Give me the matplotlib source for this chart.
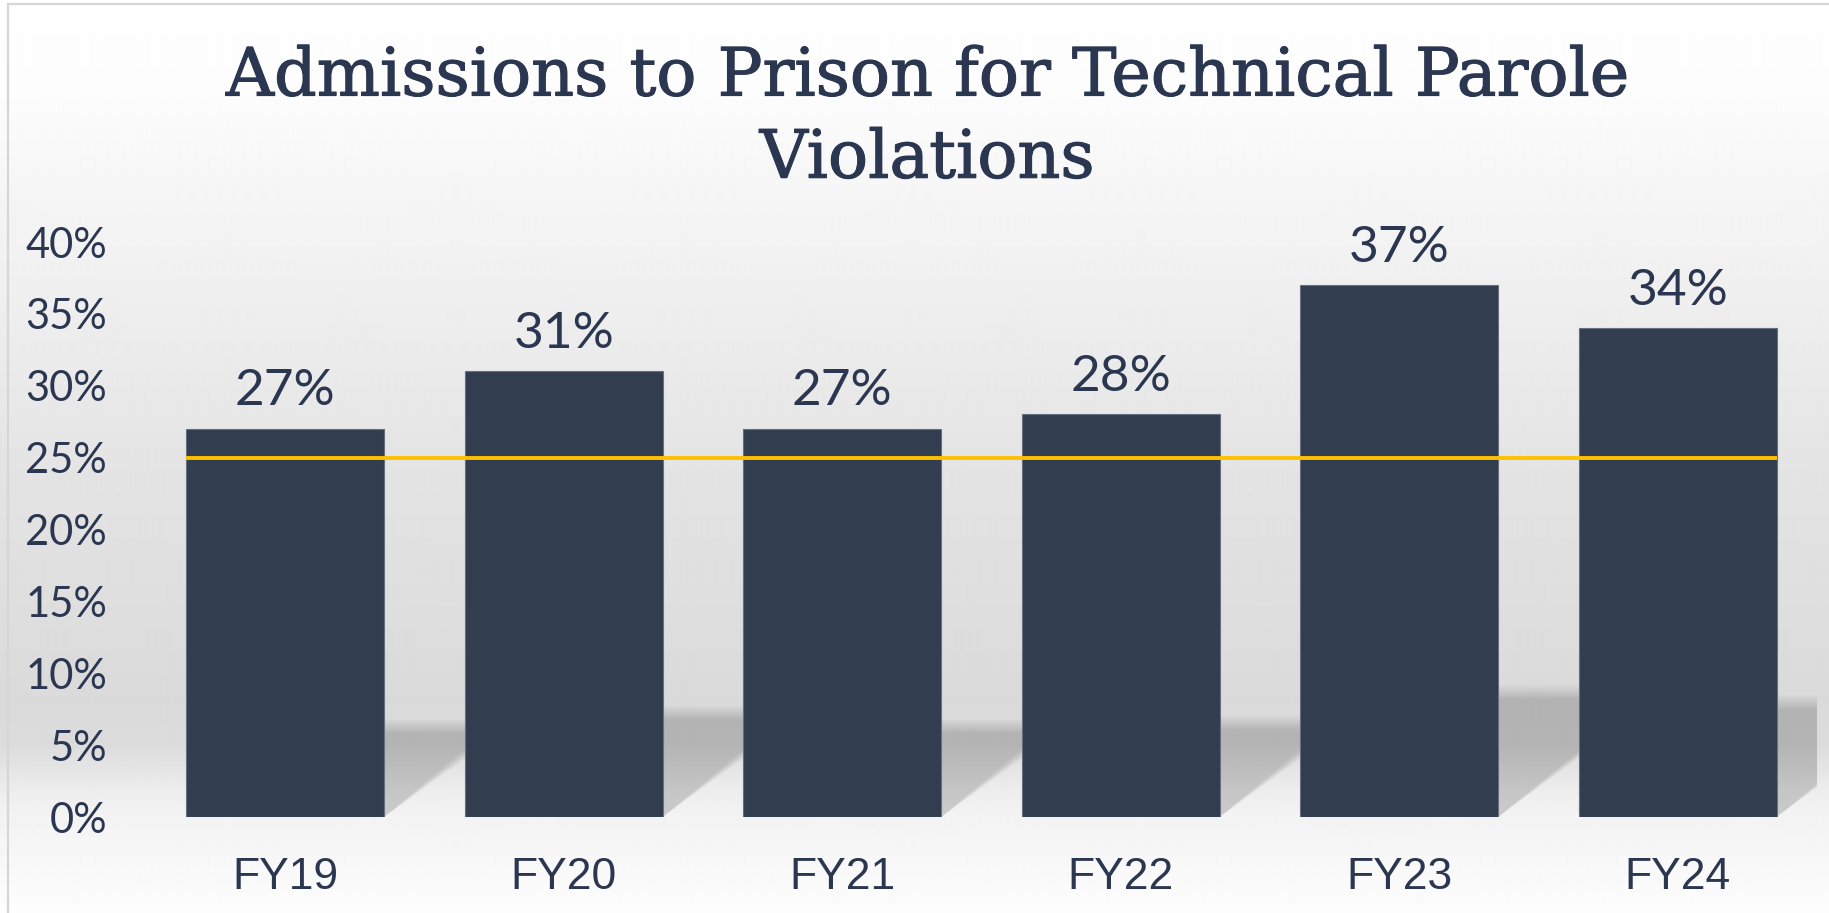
import numpy as np
import matplotlib
matplotlib.use("Agg")
import matplotlib.pyplot as plt
import matplotlib.patheffects as pe
from matplotlib.patches import Polygon

# ============================================================
# DATA
# ============================================================
years = ["FY19", "FY20", "FY21", "FY22", "FY23", "FY24"]
pct = [27, 31, 27, 28, 37, 34]
target = 25
y_ticks = [0, 5, 10, 15, 20, 25, 30, 35, 40]
title = "Admissions to Prison for Technical Parole\nViolations"

# ============================================================
# STYLE
# ============================================================
W, H = 1829, 913
DPI = 100
BAR_COLOR = "#333D50"
TEXT_COLOR = "#2B3650"
LINE_COLOR = "#FFC000"
BAR_W = 0.71

fig = plt.figure(figsize=(W / DPI, H / DPI), dpi=DPI)

# --- background gradient (whole chart area) ---
bg = fig.add_axes([0, 0, 1, 1], zorder=0)
stops_y = [0, 100, 200, 450, 700, 745, 790, 817, 913]
stops_v = [255, 252, 245, 229, 218, 220, 237, 243, 253]
rows = np.interp(np.arange(H), stops_y, stops_v) / 255.0
grad = np.repeat(rows[:, None], 4, axis=1)
bg.imshow(grad, cmap="gray", vmin=0, vmax=1, aspect="auto",
          extent=[0, W, H, 0], interpolation="bilinear")
bg.plot([8, 8], [4, H], color="#d6d6d6", lw=1.6)
bg.plot([8, W], [4, 4], color="#d6d6d6", lw=1.6)
bg.set_xlim(0, W)
bg.set_ylim(H, 0)
bg.axis("off")

# --- main axes ---
ax = fig.add_axes([146 / W, 96 / H, 1671 / W, 575 / H], zorder=1)
ax.set_facecolor("none")
x = np.arange(len(years))

# perspective shadow behind bars (soft edge by stacking faint layers)
n_layers = 20
alpha_layer = 1 - 0.875 ** (1 / n_layers)
for xi, v in zip(x, pct):
    x0, x1 = xi - BAR_W / 2, xi + BAR_W / 2
    for j in range(n_layers):
        s = (j - (n_layers - 1) / 2) / ((n_layers - 1) / 2)
        h = 0.235 * v + s * 0.5
        dx = 0.0157 * v + s * 0.07
        poly = Polygon([(x0, 0), (x1, 0), (x1 + dx, h), (x0 + dx, h)],
                       closed=True, facecolor="black", edgecolor="none",
                       alpha=alpha_layer, zorder=1)
        ax.add_patch(poly)

ax.bar(x, pct, width=BAR_W, color=BAR_COLOR, edgecolor="#66707f",
       linewidth=0.8, zorder=2)
ax.hlines(target, x[0] - BAR_W / 2, x[-1] + BAR_W / 2, color=LINE_COLOR,
          lw=2.8, zorder=3)

for xi, v in zip(x, pct):
    ax.annotate(f"{v}%", (xi, v), xytext=(0, 17), textcoords="offset points",
                ha="center", va="baseline", fontsize=37, family="Lato",
                color=TEXT_COLOR, zorder=4)

ax.set_xlim(-0.5, len(years) - 0.5)
ax.set_ylim(0, 40)
ax.set_yticks(y_ticks)
ax.set_yticklabels([f"{t}%" for t in y_ticks], family="Lato", fontsize=30,
                   color=TEXT_COLOR)
ax.set_xticks(x)
ax.set_xticklabels(years, family="Liberation Sans", fontsize=32,
                   color=TEXT_COLOR)
ax.tick_params(axis="y", length=0, pad=28)
ax.tick_params(axis="x", length=0, pad=29)
for sp in ax.spines.values():
    sp.set_visible(False)

fig.text(927 / W, 1 - 118 / H, title, ha="center", va="center",
         family="DejaVu Serif", fontsize=48, color=TEXT_COLOR,
         linespacing=1.33,
         path_effects=[pe.withStroke(linewidth=0.8, foreground=TEXT_COLOR)])

fig.savefig("out.png", dpi=DPI)
